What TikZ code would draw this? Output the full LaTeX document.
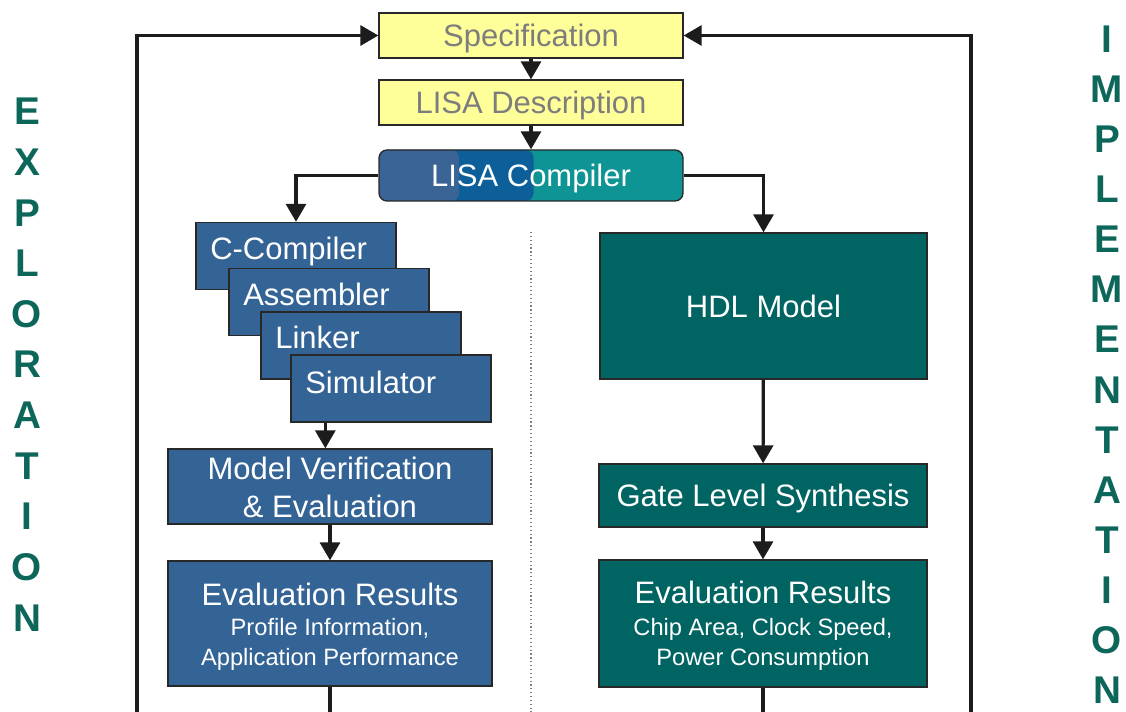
\documentclass[tikz,border=0pt]{standalone}
\usepackage{fontspec}
\setmainfont{Liberation Sans}
\usetikzlibrary{arrows.meta}
\definecolor{yfill}{RGB}{255,255,153}
\definecolor{ytext}{RGB}{125,125,125}
\definecolor{bfill}{RGB}{52,100,150}
\definecolor{tfill}{RGB}{0,100,98}
\definecolor{cblue}{RGB}{58,100,149}
\definecolor{cmid}{RGB}{12,95,152}
\definecolor{cteal}{RGB}{14,148,148}
\definecolor{bord}{RGB}{40,40,40}
\definecolor{lett}{RGB}{12,102,90}
\definecolor{linec}{RGB}{28,28,28}
\newcommand{\bigf}{\fontsize{23.25pt}{28pt}\selectfont}
\newcommand{\smallf}{\fontsize{17.75pt}{22pt}\selectfont}
\newcommand{\sidef}{\fontsize{29pt}{34pt}\selectfont\bfseries}
\tikzset{
  x=0.75pt, y=-0.75pt,
  box/.style={draw=bord, line width=1pt, inner sep=0pt, font=\bigf, text=white},
  ybox/.style={box, fill=yfill, text=ytext, minimum width=228pt, minimum height=33.75pt, text height=16.6pt, text depth=0pt},
  bbox/.style={box, fill=bfill},
  tbox/.style={box, fill=tfill},
  stackbox/.style={bbox, minimum width=150pt, minimum height=50.25pt},
  lbl/.style={anchor=base west, inner sep=0pt, font=\bigf, text=white},
  ctr/.style={anchor=base, inner sep=0pt, font=\bigf, text=white},
  ctrs/.style={anchor=base, inner sep=0pt, font=\smallf, text=white},
  conn/.style={draw=linec, line width=2.4pt, -{Triangle[length=13.5pt,width=15pt]}},
  plain/.style={draw=linec, line width=2.4pt},
  side/.style={inner sep=0pt, font=\sidef, text=lett, anchor=base, text height=20.8pt, text depth=0pt},
}
\begin{document}
\begin{tikzpicture}
\useasboundingbox (0,0) rectangle (1126,712);
% top boxes
\node[ybox] (spec) at (531,35.5) {Specification};
\node[ybox] (desc) at (531,102.5) {LISA Description};
\node[box, rounded corners=6pt, minimum width=228pt, minimum height=38.25pt, text height=16.6pt, text depth=0pt,
  path picture={
    \fill[cteal] (path picture bounding box.south west) rectangle (path picture bounding box.north east);
    \fill[cmid] (path picture bounding box.south west) rectangle ([xshift=116pt]path picture bounding box.north west);
    \fill[cblue] (path picture bounding box.south west) rectangle ([xshift=60pt]path picture bounding box.north west);
  }] (lc) at (531,175.5) {LISA Compiler};
% stacked tool boxes
\node[stackbox] (cc) at (296,256) {};
\node[lbl] (cct) at (210,260) {C-Compiler};
\node[stackbox] (as) at (329,302) {};
\node[lbl] (ast) at (243,306) {Assembler};
\node[stackbox] (lk) at (361,345.5) {};
\node[lbl] (lkt) at (275,349) {Linker};
\node[stackbox] (sm) at (391,388.5) {};
\node[lbl] (smt) at (305,393) {Simulator};
% left column
\node[bbox, minimum width=243pt, minimum height=56.25pt] (mv) at (330,486.5) {};
\node[ctr] (mv1) at (330,479) {Model Verification};
\node[ctr] (mv2) at (330,517) {\& Evaluation};
\node[bbox, minimum width=243pt, minimum height=93.75pt] (el) at (330,623.5) {};
\node[ctr] (el1) at (330,605.5) {Evaluation Results};
\node[ctrs] (el2) at (330,635.5) {Profile Information,};
\node[ctrs] (el3) at (330,665) {Application Performance};
% right column
\node[tbox, minimum width=245.25pt, minimum height=109.5pt, text height=16.6pt, text depth=0pt] (hdl) at (763.5,306) {HDL Model};
\node[tbox, minimum width=246pt, minimum height=47.25pt, text height=16.6pt, text depth=0pt] (gl) at (763,495.5) {Gate Level Synthesis};
\node[tbox, minimum width=246pt, minimum height=95.25pt] (er) at (763,623.5) {};
\node[ctr] (er1) at (763,603.5) {Evaluation Results};
\node[ctrs] (er2) at (763,635) {Chip Area, Clock Speed,};
\node[ctrs] (er3) at (763,665) {Power Consumption};
% coordinates for free ends
\coordinate (lb) at (137,712);
\coordinate (rb) at (971,712);
\coordinate (elb) at (330,712);
\coordinate (erb) at (763,712);
\coordinate (dt) at (531,232);
\coordinate (db) at (531,712);
% dotted separator
\draw[gray, dotted, line width=0.9pt] (dt) -- (db);
% connectors
\draw[conn] (spec) -- (desc);
\draw[conn] (desc) -- (lc);
\draw[conn] (lc.west) -| (cc.north);
\draw[conn] (lc.east) -| (hdl.north);
\draw[conn] ([xshift=-3.5pt]mv.north |- sm.south) -- ([xshift=-3.5pt]mv.north);
\draw[conn] (mv) -- (el);
\draw[conn] (hdl) -- (gl);
\draw[conn] (gl) -- (er);
\draw[plain] (el.south) -- (elb);
\draw[plain] (er.south) -- (erb);
\draw[conn] (lb) |- (spec.west);
\draw[conn] (rb) |- (spec.east);
% side words (baselines)
\foreach \ch [count=\i from 0] in {E,X,P,L,O,R,A,T,I,O,N}
  \node[side] (ex\i) at (27,125+50.6*\i) {\ch};
\foreach \ch [count=\i from 0] in {I,M,P,L,E,M,E,N,T,A,T,I,O,N}
  \node[side] (im\i) at (1107,53+50*\i) {\ch};
\end{tikzpicture}
\end{document}
